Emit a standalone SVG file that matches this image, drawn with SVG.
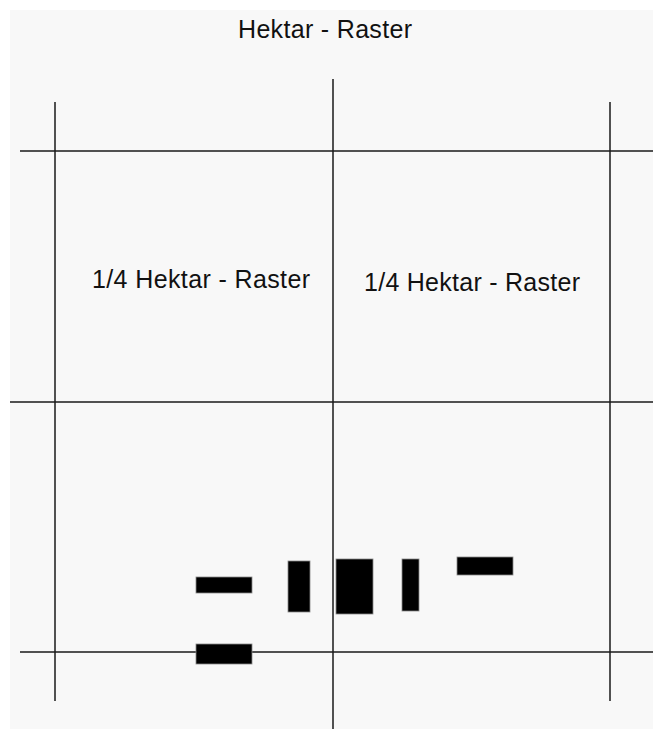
<svg xmlns="http://www.w3.org/2000/svg" width="653" height="729" viewBox="0 0 653 729">
<style>
.ln{stroke:#1a1a1a;stroke-width:1.5;fill:none}
.blk{fill:#000;stroke:#888;stroke-width:0.8}
.t{font-family:"Liberation Sans",Arial,sans-serif;font-size:25px;fill:#111}
</style>
<rect width="653" height="729" fill="#fff"/>
<rect x="10" y="10" width="643" height="719" fill="#f8f8f8"/>
<g id="grid">
<line class="ln" x1="55" y1="102" x2="55" y2="701"/>
<line class="ln" x1="333" y1="79" x2="333" y2="729"/>
<line class="ln" x1="610" y1="102" x2="610" y2="701"/>
<line class="ln" x1="20" y1="151" x2="653" y2="151"/>
<line class="ln" x1="10" y1="402" x2="653" y2="402"/>
<line class="ln" x1="20" y1="652" x2="653" y2="652"/>
</g>
<g id="title"><text class="t" x="238" y="38" textLength="174">Hektar - Raster</text></g>
<g id="q1"><text class="t" x="92" y="288" textLength="218">1/4 Hektar - Raster</text></g>
<g id="q2"><text class="t" x="364" y="291" textLength="216">1/4 Hektar - Raster</text></g>
<g id="blocks">
<rect class="blk" x="196" y="577" width="56" height="16"/>
<rect class="blk" x="288" y="561" width="22" height="51"/>
<rect class="blk" x="336" y="559" width="37" height="55"/>
<rect class="blk" x="402" y="559" width="17" height="52"/>
<rect class="blk" x="457" y="557" width="56" height="18"/>
<rect class="blk" x="196" y="644" width="56" height="20"/>
</g>
</svg>
